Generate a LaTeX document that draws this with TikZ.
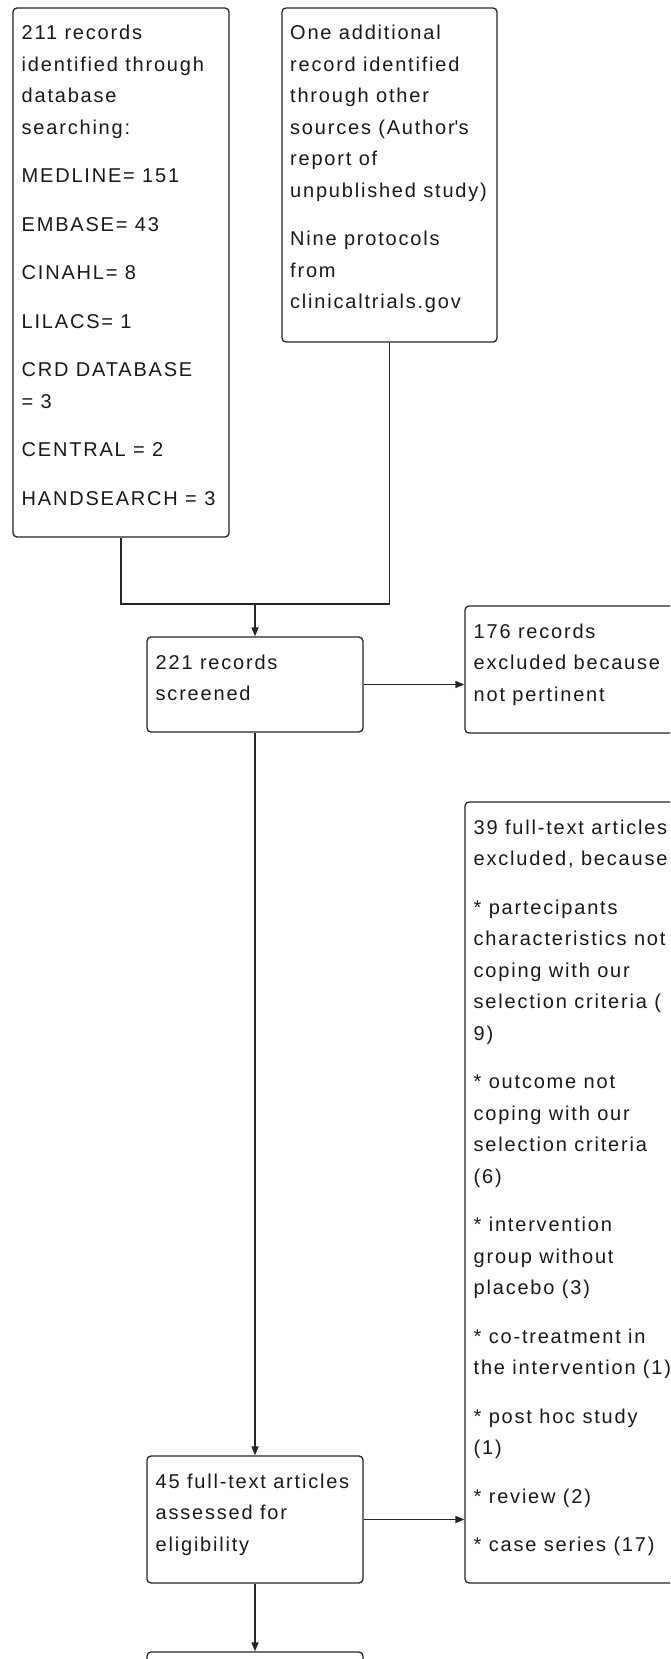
\documentclass[tikz,border=0pt]{standalone}
\usepackage{fontspec}
\setmainfont{Liberation Sans}[LetterSpace=9]
\usetikzlibrary{arrows.meta}
\newcommand{\boxtxt}[1]{\parbox[t]{330pt}{\fontsize{20pt}{31.5pt}\selectfont\raggedright #1}}
\newcommand{\pgap}{\\[17pt]}
\begin{document}
\begin{tikzpicture}[x=1pt,y=-1pt,
  box/.style={draw=black!85, line width=1.3pt, rounded corners=4pt, inner sep=0pt},
  txt/.style={anchor=base west, inner sep=0pt, text=black!90},
  link/.style={draw=black!85, line width=1.5pt},
  arr/.style={link, -{Triangle[length=9pt,width=7pt]}}]
\fill[white] (0,0) rectangle (670,1659);
\useasboundingbox (0,0) rectangle (670,1659);
\clip (0,0) rectangle (670,1659);

\node[box, minimum width=216pt, minimum height=529pt] (A) at (121,272.5) {};
\node[box, minimum width=215pt, minimum height=334pt] (B) at (389.5,175) {};
\node[box, minimum width=216pt, minimum height=95pt]  (C) at (255,684.5) {};
\node[box, minimum width=255pt, minimum height=127pt] (D) at (592.5,669.5) {};
\node[box, minimum width=216pt, minimum height=127pt] (E) at (255,1519.5) {};
\node[box, minimum width=255pt, minimum height=781pt] (F) at (592.5,1192.5) {};
\node[box, minimum width=216pt, minimum height=108pt] (G) at (255,1706) {};

\node[txt] (At) at (21.5,40) {\boxtxt{211 records\\identified through\\database\\searching:\pgap
MEDLINE= 151\pgap EMBASE= 43\pgap CINAHL= 8\pgap LILACS= 1\pgap CRD DATABASE\\= 3\pgap
CENTRAL = 2\pgap HANDSEARCH = 3}};
\node[txt] (Bt) at (290,40) {\boxtxt{One additional\\record identified\\through other\\sources (Author\textquotesingle s\\report of\\unpublished study)\pgap
Nine protocols\\from\\clinicaltrials.gov}};
\node[txt] (Ct) at (155.5,669) {\boxtxt{221 records\\screened}};
\node[txt] (Dt) at (473.5,638) {\boxtxt{176 records\\excluded because\\not pertinent}};
\node[txt] (Et) at (155.5,1488) {\boxtxt{45 full-text articles\\assessed for\\eligibility}};
\node[txt] (Ft) at (473.5,834) {\boxtxt{39 full-text articles\\excluded, because\pgap
* partecipants\\characteristics not\\coping with our\\selection criteria (\\9)\pgap
* outcome not\\coping with our\\selection criteria\\(6)\pgap
* intervention\\group without\\placebo (3)\pgap
* co-treatment in\\the intervention (1)\pgap
* post hoc study\\(1)\pgap
* review (2)\pgap
* case series (17)}};

\coordinate (J) at (255,604);
\draw[link] (A.south) |- (J);
\draw[link] (B.south) |- (J);
\draw[arr] (J) -- (C.north);
\draw[arr] (C.east) -- (C.east -| D.west);
\draw[arr] (C.south) -- (E.north);
\draw[arr] (E.east) -- (E.east -| F.west);
\draw[arr] (E.south) -- (G.north);
\end{tikzpicture}
\end{document}
